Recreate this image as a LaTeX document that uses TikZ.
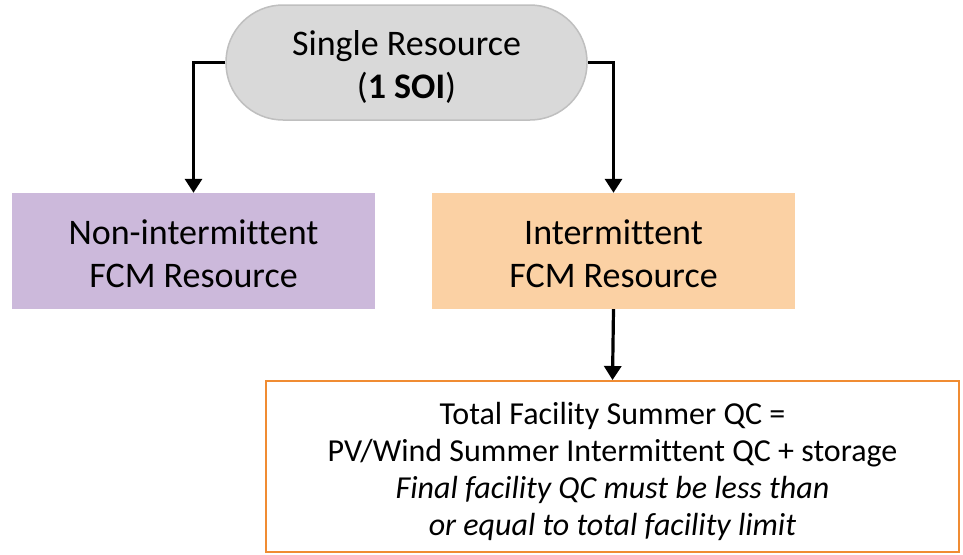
\documentclass[tikz,border=0pt]{standalone}
\usepackage{fontspec}
\setmainfont{Carlito}[Ligatures=NoCommon]
\usetikzlibrary{arrows.meta}
\definecolor{pillfill}{HTML}{D9D9D9}
\definecolor{pillline}{HTML}{BFBFBF}
\definecolor{lilac}{HTML}{CCB9DB}
\definecolor{peach}{HTML}{FBD1A4}
\definecolor{orangeline}{HTML}{F08C32}
\begin{document}
\begin{tikzpicture}[x=1pt,y=-1pt,
  pill/.style={draw=pillline,line width=1.5pt,fill=pillfill,rounded corners=57pt,
    minimum width=361pt,minimum height=115pt,inner sep=0pt},
  catbox/.style={minimum width=363pt,minimum height=116pt,inner sep=0pt},
  resultbox/.style={draw=orangeline,line width=2pt,fill=white,
    minimum width=693pt,minimum height=171pt,inner sep=0pt},
  bigtext/.style={align=center,inner sep=0pt,font=\fontsize{36}{43}\selectfont},
  smalltext/.style={align=center,inner sep=0pt,font=\fontsize{32}{37}\selectfont},
  flow/.style={line width=3.2pt,-{Triangle[length=14pt,width=17pt]}}]
\useasboundingbox (0,0) rectangle (963,554);
% boxes
\node[pill] (top) at (406.5,62.5) {};
\node[catbox,fill=lilac] (nonint) at (193.5,251) {};
\node[catbox,fill=peach] (inter) at (613.5,251) {};
\node[resultbox] (total) at (612.5,466.5) {};
% texts, set slightly below the geometric centres
\node[bigtext] (toptext) at ([yshift=-4pt]top.center) {Single Resource\\(\textbf{1 SOI})};
\node[bigtext] (noninttext) at ([yshift=-3pt]nonint.center) {Non-intermittent\\FCM Resource};
\node[bigtext] (intertext) at ([yshift=-3pt]inter.center) {Intermittent\\FCM Resource};
\node[smalltext] (totaltext) at ([yshift=-4.5pt]total.center) {Total Facility Summer QC =\\PV/Wind Summer Intermittent QC + storage\\\textit{Final facility QC must be less than}\\\textit{or equal to total facility limit}};
% connectors
\draw[flow] (top.west) -| (nonint.north);
\draw[flow] (top.east) -| (inter.north);
\draw[flow] (inter.south) -- (total.north);
\end{tikzpicture}
\end{document}
